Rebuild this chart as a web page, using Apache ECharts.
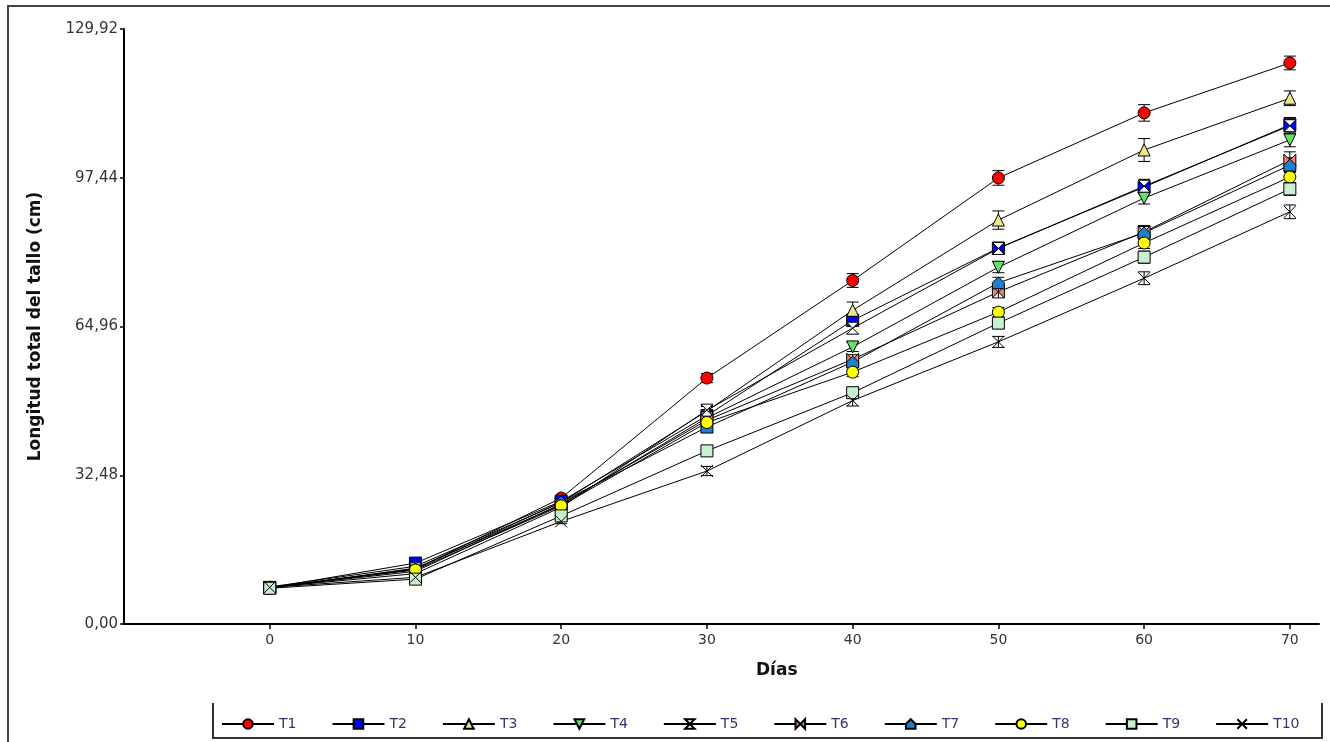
<!DOCTYPE html>
<html>
<head>
<meta charset="utf-8">
<script src="https://cdn.jsdelivr.net/npm/echarts@6/dist/echarts.min.js"></script>
<style>html,body{margin:0;padding:0;background:#fff}#c{width:1330px;height:742px}</style>
</head>
<body>
<div id="c"></div>
<script>
const days = [0, 10, 20, 30, 40, 50, 60, 70];
const seriesNames = ['T1', 'T2', 'T3', 'T4', 'T5', 'T6', 'T7', 'T8', 'T9', 'T10'];
const yTicks = [0, 32.48, 64.96, 97.44, 129.92];

const T1  = [8.0, 12.0, 27.5, 53.7, 75.0, 97.4, 111.6, 122.5];
const T2  = [7.9, 13.3, 26.8, 45.5, 66.3, 82.1, 95.4, 109.0];
const T3  = [8.1, 12.6, 26.5, 46.5, 68.5, 88.2, 103.5, 114.8];
const T4  = [7.8, 12.2, 26.0, 45.0, 60.5, 77.9, 93.0, 105.7];
const T5  = [8.0, 11.0, 25.5, 46.7, 64.6, 82.0, 95.6, 108.8];
const T6  = [8.0, 11.5, 26.2, 44.5, 57.8, 72.5, 85.6, 101.3];
const T7  = [7.9, 12.0, 26.6, 43.0, 57.2, 74.5, 85.4, 100.2];
const T8  = [8.0, 11.8, 25.8, 44.0, 55.0, 68.1, 83.2, 97.6];
const T9  = [7.8, 9.8, 23.6, 37.8, 50.5, 65.7, 80.1, 95.0];
const T10 = [8.0, 10.2, 22.4, 33.4, 48.8, 61.6, 75.5, 90.0];

const E1  = [0.3, 0.5, 0.6, 1.0, 1.5, 1.6, 1.8, 1.5];
const E2  = [0.3, 0.5, 0.5, 1.0, 1.2, 1.2, 1.5, 1.5];
const E3  = [0.3, 0.5, 0.6, 1.0, 1.8, 2.0, 2.5, 1.6];
const E4  = [0.3, 0.5, 0.5, 0.8, 1.0, 1.2, 1.3, 1.5];
const E5  = [0.3, 0.4, 0.5, 1.0, 1.2, 1.2, 1.5, 1.8];
const E6  = [0.3, 0.4, 0.5, 0.8, 1.0, 1.3, 1.4, 1.8];
const E7  = [0.3, 0.4, 0.5, 0.8, 1.0, 1.2, 1.4, 1.6];
const E8  = [0.3, 0.4, 0.5, 0.8, 1.0, 1.0, 1.2, 1.2];
const E9  = [0.3, 0.4, 0.5, 0.8, 1.0, 1.2, 1.3, 1.4];
const E10 = [0.3, 0.4, 0.5, 1.0, 1.2, 1.2, 1.4, 1.5];

const values = [T1, T2, T3, T4, T5, T6, T7, T8, T9, T10];
const errors = [E1, E2, E3, E4, E5, E6, E7, E8, E9, E10];

const styles = [
  { symbol: 'circle', color: '#FF0000' },
  { symbol: 'rect', color: '#0000FF' },
  { symbol: 'triangle', color: '#F0E68C' },
  { symbol: 'triangle', color: '#66E066', rotate: 180 },
  { symbol: 'path://M0,0 L10,0 L0,10 L10,10 Z', color: '#FFFFFF' },
  { symbol: 'path://M0,0 L10,10 L10,0 L0,10 Z', color: '#F08070' },
  { symbol: 'path://M5,0 L10,5 L10,10 L0,10 L0,5 Z', color: '#1E7FCF' },
  { symbol: 'circle', color: '#FFFF00' },
  { symbol: 'rect', color: '#C8F0D0' },
  { symbol: 'path://M0,0 L10,10 M10,0 L0,10', color: '#000000' }
];

const errData = [];
values.forEach((arr, si) => {
  arr.forEach((v, i) => errData.push([days[i], v - errors[si][i], v + errors[si][i]]));
});

const series = seriesNames.map((n, si) => ({
  name: n,
  type: 'line',
  data: days.map((d, i) => [d, values[si][i]]),
  symbol: styles[si].symbol,
  symbolSize: 12,
  symbolRotate: styles[si].rotate || 0,
  showAllSymbol: true,
  z: 3,
  lineStyle: { color: '#000', width: 1 },
  itemStyle: { color: styles[si].color, borderColor: '#000', borderWidth: 1 },
  emphasis: { disabled: true },
  animation: false
}));

series.unshift({
  type: 'custom',
  z: 1,
  silent: true,
  animation: false,
  data: errData,
  renderItem: function (params, api) {
    const x = api.value(0);
    const lo = api.coord([x, api.value(1)]);
    const hi = api.coord([x, api.value(2)]);
    const hw = 6;
    const st = { stroke: '#000', lineWidth: 1 };
    return {
      type: 'group',
      children: [
        { type: 'line', shape: { x1: lo[0], y1: lo[1], x2: hi[0], y2: hi[1] }, style: st },
        { type: 'line', shape: { x1: lo[0] - hw, y1: lo[1], x2: lo[0] + hw, y2: lo[1] }, style: st },
        { type: 'line', shape: { x1: hi[0] - hw, y1: hi[1], x2: hi[0] + hw, y2: hi[1] }, style: st }
      ]
    };
  }
});

const chart = echarts.init(document.getElementById('c'), null, { renderer: 'canvas' });
chart.setOption({
  backgroundColor: '#fff',
  animation: false,
  grid: { left: 124, right: 11, top: 29, bottom: 118, containLabel: false },
  xAxis: {
    type: 'value',
    min: -10,
    max: 72,
    interval: 10,
    axisLine: { onZero: false, lineStyle: { color: '#000', width: 2 } },
    axisTick: { show: true, length: 5, lineStyle: { color: '#000', width: 1.5 }, customValues: days },
    axisLabel: { customValues: days, color: '#333', fontFamily: 'DejaVu Sans', fontSize: 14, margin: 9 },
    splitLine: { show: false }
  },
  yAxis: {
    type: 'value',
    min: 0,
    max: 129.92,
    interval: 32.48,
    name: 'Longitud total del tallo (cm)',
    nameLocation: 'middle',
    nameGap: 80,
    nameRotate: 90,
    nameTextStyle: { color: '#111', fontFamily: 'DejaVu Sans', fontWeight: 'bold', fontSize: 17 },
    axisLine: { show: true, onZero: false, lineStyle: { color: '#000', width: 2 } },
    axisTick: { show: true, length: 4, lineStyle: { color: '#000', width: 1.5 }, customValues: yTicks },
    axisLabel: {
      customValues: yTicks,
      color: '#333', fontFamily: 'DejaVu Sans', fontSize: 15, margin: 6,
      formatter: v => v.toFixed(2).replace('.', ',')
    },
    splitLine: { show: false }
  },
  legend: {
    data: seriesNames,
    left: 216,
    top: 712,
    itemWidth: 52,
    itemHeight: 12,
    itemGap: 35,
    textStyle: { color: '#3a3070', fontFamily: 'DejaVu Sans', fontSize: 14 },
    selectedMode: false
  },
  graphic: [
    { type: 'rect', shape: { x: 8, y: 6, width: 1330, height: 740 }, style: { fill: 'none', stroke: '#444', lineWidth: 2 }, silent: true },
    { type: 'polyline', shape: { points: [[213, 703], [213, 738], [1322, 738], [1322, 703]] }, style: { fill: 'none', stroke: '#333', lineWidth: 2 }, silent: true },
    { type: 'text', left: 756, top: 662, style: { text: 'Días', fill: '#111', font: 'bold 17px "DejaVu Sans"' }, silent: true }
  ],
  series: series
});
</script>
</body>
</html>
